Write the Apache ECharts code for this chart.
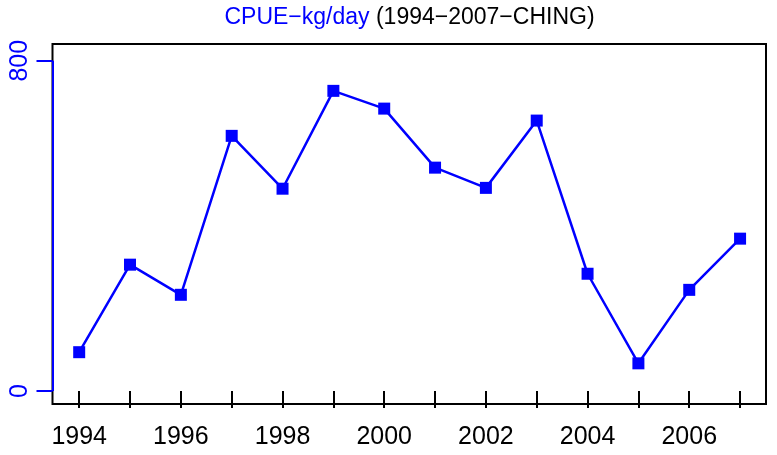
<!DOCTYPE html>
<html>
<head>
<meta charset="utf-8">
<script src="https://cdn.jsdelivr.net/npm/echarts@6/dist/echarts.min.js"></script>
<style>
  html, body { margin: 0; padding: 0; background: #fff; }
  #chart { width: 777px; height: 455px; }
</style>
</head>
<body>
<div id="chart"></div>
<script>
// CPUE per year
const years = [1994, 1995, 1996, 1997, 1998, 1999, 2000, 2001, 2002, 2003, 2004, 2005, 2006, 2007]
const cpue = [94, 306, 233, 618, 490, 727, 684, 541, 492, 655, 284, 67, 245, 369]
const xLabels = [1994, 1996, 1998, 2000, 2002, 2004, 2006]
const yLabels = [0, 800]

const blue = '#0000ff'
const font = '"Liberation Sans", Arial, sans-serif'
const xMin = 1993.475, xMax = 2007.51
const yMin = -31.5, yMax = 840.5

let myChart = echarts.init(document.getElementById('chart'))
let option = {
  animation: false,
  backgroundColor: '#fff',
  graphic: [
    {
      type: 'text',
      x: 409.5,
      y: 6,
      style: {
        text: '{a|CPUE\u2212kg/day}{b| (1994\u22122007\u2212CHING)}',
        align: 'center',
        verticalAlign: 'top',
        rich: {
          a: { fill: blue, fontSize: 23, fontFamily: font },
          b: { fill: '#000', fontSize: 23, fontFamily: font }
        }
      }
    }
  ],
  grid: {
    left: 52.5,
    right: 11,
    top: 44,
    bottom: 51,
    show: true,
    borderColor: '#000',
    borderWidth: 2,
    containLabel: false
  },
  xAxis: {
    type: 'value',
    min: xMin,
    max: xMax,
    axisLine: { show: false },
    splitLine: { show: false },
    axisTick: {
      show: true,
      customValues: years,
      length: 17,
      lineStyle: { color: '#000', width: 2 }
    },
    axisLabel: {
      customValues: xLabels,
      formatter: v => String(v),
      color: '#000',
      fontSize: 25,
      fontFamily: font,
      margin: 21
    }
  },
  yAxis: {
    type: 'value',
    min: yMin,
    max: yMax,
    axisLine: { show: false },
    splitLine: { show: false },
    axisTick: {
      show: true,
      customValues: yLabels,
      length: 16,
      lineStyle: { color: blue, width: 2 }
    },
    axisLabel: {
      customValues: yLabels,
      formatter: v => String(v),
      rotate: 90,
      color: blue,
      fontSize: 25,
      fontFamily: font,
      margin: 20
    }
  },
  series: [
    {
      type: 'line',
      data: years.map((y, i) => [y, cpue[i]]),
      symbol: 'rect',
      symbolSize: 12,
      itemStyle: { color: blue },
      lineStyle: { color: blue, width: 2.5 },
      markLine: {
        silent: true,
        symbol: 'none',
        label: { show: false },
        lineStyle: { color: blue, width: 2, type: 'solid' },
        data: [[{ coord: [xMin, yLabels[0]] }, { coord: [xMin, yLabels[1]] }]]
      }
    }
  ]
}
myChart.setOption(option)
</script>
</body>
</html>
